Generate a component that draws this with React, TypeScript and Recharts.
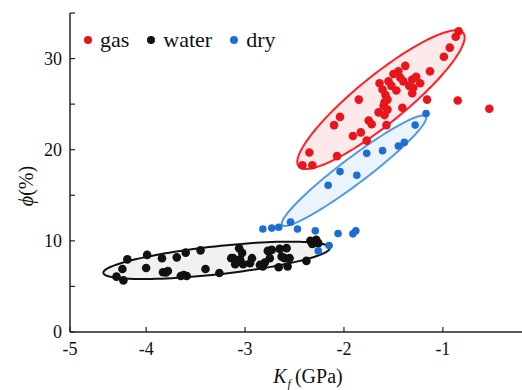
import React from 'react';
import { ScatterChart, Scatter, XAxis, YAxis, Legend } from 'recharts';

// K_f (GPa), phi (%)
const gasPoints: [number, number][] = [
  [-0.84, 33.0], [-0.87, 32.4], [-0.93, 31.2], [-0.99, 30.2], [-1.13, 28.6],
  [-1.38, 29.2], [-1.45, 28.6], [-1.5, 28.3], [-1.43, 27.9], [-1.55, 27.5],
  [-1.64, 27.3], [-1.31, 27.7], [-1.23, 27.3], [-1.34, 27.0], [-1.3, 26.8],
  [-1.47, 26.5], [-1.61, 26.6], [-1.58, 26.0], [-1.31, 26.2], [-1.85, 25.5],
  [-1.56, 25.5], [-1.59, 25.2], [-1.41, 24.6], [-1.16, 25.5], [-0.85, 25.4],
  [-0.53, 24.5], [-1.56, 24.4], [-1.65, 24.1], [-1.59, 23.8], [-2.04, 23.6],
  [-2.1, 22.7], [-1.75, 23.2], [-1.72, 22.8], [-1.57, 22.7], [-1.83, 21.9],
  [-1.91, 21.5], [-1.77, 21.0], [-2.07, 19.3], [-2.35, 19.7], [-2.42, 18.3],
  [-2.32, 18.3], [-1.52, 27.0], [-1.6, 24.8], [-1.4, 27.5], [-1.27, 28.0],
];

const waterPoints: [number, number][] = [
  [-4.19, 7.97], [-3.99, 8.46], [-3.84, 8.1], [-3.69, 8.19], [-3.6, 8.71],
  [-3.45, 8.96], [-4.24, 6.92], [-4.0, 7.03], [-3.83, 6.56], [-3.78, 6.7],
  [-3.8, 6.54], [-3.65, 6.15], [-3.59, 6.15], [-3.62, 6.26], [-3.4, 6.92],
  [-3.26, 6.48], [-4.3, 6.08], [-4.23, 5.66], [-3.06, 9.18], [-3.03, 8.68],
  [-3.12, 8.1], [-3.05, 7.99], [-3.02, 7.44], [-3.1, 7.44], [-2.93, 8.1],
  [-2.95, 7.55], [-2.85, 7.36], [-2.8, 7.62], [-2.82, 7.18], [-2.77, 8.9],
  [-2.73, 9.01], [-2.75, 8.1], [-2.65, 9.12], [-2.58, 9.2], [-2.63, 8.27],
  [-2.6, 8.1], [-2.55, 8.1], [-2.57, 7.18], [-2.66, 7.11], [-2.38, 7.8],
  [-2.34, 10.0], [-2.28, 10.11], [-2.26, 9.75], [-2.32, 9.67], [-3.14, 8.1],
];

const dryPoints: [number, number][] = [
  [-1.17, 23.96], [-1.28, 22.7], [-1.39, 20.8], [-1.45, 20.4], [-1.61, 19.9],
  [-1.77, 19.6], [-2.04, 17.6], [-1.87, 17.2], [-2.16, 16.1], [-2.54, 12.05],
  [-2.82, 11.3], [-2.73, 11.4], [-2.66, 11.5], [-2.47, 11.3], [-2.29, 11.1],
  [-2.06, 10.8], [-1.91, 10.77], [-1.88, 11.1], [-2.15, 9.48], [-2.26, 8.9],
];

// ellipse: centre (cx, cy) and two conjugate semi-axis vectors u, v, in data units
const gasEllipse = { cx: -1.626, cy: 25.49, ux: 0.832, uy: 7.33, vx: -0.153, vy: 2.05 };
const dryEllipse = { cx: -1.899, cy: 17.69, ux: 0.726, uy: 5.96, vx: -0.08, vy: 1.12 };
const waterEllipse = { cx: -3.288, cy: 7.86, ux: 1.145, uy: 1.37, vx: -0.0155, vy: 1.53 };

const xTicks = [-4.77, -4, -3, -2, -1];
const yTicks = [0, 5, 10, 15, 20, 25, 30, 35];
const yLabelled = [0, 10, 20, 30];

const legendItems = [
  { name: 'gas', color: '#e8161c' },
  { name: 'water', color: '#111111' },
  { name: 'dry', color: '#1c6fd1' },
];

const toXY = (arr: [number, number][]) => arr.map(([x, y]) => ({ x, y }));

const outline = (e: typeof gasEllipse) => {
  const pts: { x: number; y: number }[] = [];
  const n = 120;
  for (let i = 0; i < n; i++) {
    const t = (2 * Math.PI * i) / n;
    pts.push({
      x: e.cx + e.ux * Math.cos(t) + e.vx * Math.sin(t),
      y: e.cy + e.uy * Math.cos(t) + e.vy * Math.sin(t),
    });
  }
  return pts;
};

const FONT = 'Liberation Serif, DejaVu Serif, serif';

const dot = (color: string, r: number) => (p: any) => (
  <circle cx={p.cx} cy={p.cy} r={r} fill={color} />
);

const noDot = () => <g />;

const LegendContent = () => (
  <div style={{ display: 'flex', alignItems: 'center', fontFamily: FONT, fontSize: 22, lineHeight: '22px', color: '#111' }}>
    {legendItems.map((it, i) => (
      <div key={it.name} style={{ display: 'flex', alignItems: 'center', marginLeft: i === 0 ? 0 : 18 }}>
        <span style={{ display: 'inline-block', width: 8, height: 8, borderRadius: 4, background: it.color, marginRight: 8 }} />
        <span>{it.name}</span>
      </div>
    ))}
  </div>
);

const XLabel = () => (
  <text x={308} y={383} textAnchor="middle" fontFamily={FONT} fontSize={20} fill="#111">
    <tspan fontStyle="italic">K</tspan>
    <tspan fontStyle="italic" fontSize={12} dy={5} dx={1}>f</tspan>
    <tspan dy={-5} dx={4}>(GPa)</tspan>
  </text>
);

const YLabel = () => (
  <text
    x={26}
    y={186}
    transform="rotate(-90, 26, 186)"
    textAnchor="middle"
    dominantBaseline="central"
    fontFamily={FONT}
    fontSize={20}
    fill="#111"
  >
    <tspan fontStyle="italic">ϕ</tspan>
    <tspan>(%)</tspan>
  </text>
);

export default function App() {
  return (
    <div style={{ position: 'absolute', left: 0, top: 0, width: 522, height: 390, background: '#fff' }}>
      <ScatterChart width={522} height={390} margin={{ top: 13, right: 0, bottom: 0, left: 0 }}>
        <XAxis
          type="number"
          dataKey="x"
          domain={[-4.77, -0.2]}
          ticks={xTicks}
          tickFormatter={(v: number) => String(Math.round(v))}
          height={58}
          tickSize={-5}
          tickMargin={15}
          axisLine={{ stroke: '#222', strokeWidth: 1.5 }}
          tickLine={{ stroke: '#222', strokeWidth: 1.2 }}
          tick={{ fill: '#111', fontSize: 18, fontFamily: FONT }}
          interval={0}
          label={<XLabel />}
        />
        <YAxis
          type="number"
          dataKey="y"
          domain={[0, 35]}
          ticks={yTicks}
          tickFormatter={(v: number) => (yLabelled.includes(v) ? String(v) : '')}
          width={70}
          tickSize={-5}
          tickMargin={13}
          axisLine={{ stroke: '#222', strokeWidth: 1.5 }}
          tickLine={{ stroke: '#222', strokeWidth: 1.2 }}
          tick={{ fill: '#111', fontSize: 18, fontFamily: FONT }}
          interval={0}
          label={<YLabel />}
        />
        <Legend
          content={<LegendContent />}
          layout="horizontal"
          verticalAlign="middle"
          align="center"
          wrapperStyle={{ top: 29, left: 84, width: 'auto', height: 'auto' }}
        />
        <Scatter
          name="waterEllipse"
          data={outline(waterEllipse)}
          shape={noDot}
          line={{ stroke: '#111', strokeWidth: 2, fill: '#f1f1f1' }}
          lineJointType="linearClosed"
          isAnimationActive={false}
          legendType="none"
        />
        <Scatter
          name="gasEllipse"
          data={outline(gasEllipse)}
          shape={noDot}
          line={{ stroke: '#ff1f24', strokeWidth: 2, fill: '#fde9e9' }}
          lineJointType="linearClosed"
          isAnimationActive={false}
          legendType="none"
        />
        <Scatter
          name="dryEllipse"
          data={outline(dryEllipse)}
          shape={noDot}
          line={{ stroke: '#4f9be3', strokeWidth: 2, fill: '#ebf3fc' }}
          lineJointType="linearClosed"
          isAnimationActive={false}
          legendType="none"
        />
        <Scatter name="water" data={toXY(waterPoints)} shape={dot('#111111', 4.3)} isAnimationActive={false} />
        <Scatter name="gas" data={toXY(gasPoints)} shape={dot('#e8161c', 4.3)} isAnimationActive={false} />
        <Scatter name="dry" data={toXY(dryPoints)} shape={dot('#1c6fd1', 3.8)} isAnimationActive={false} />
      </ScatterChart>
    </div>
  );
}
